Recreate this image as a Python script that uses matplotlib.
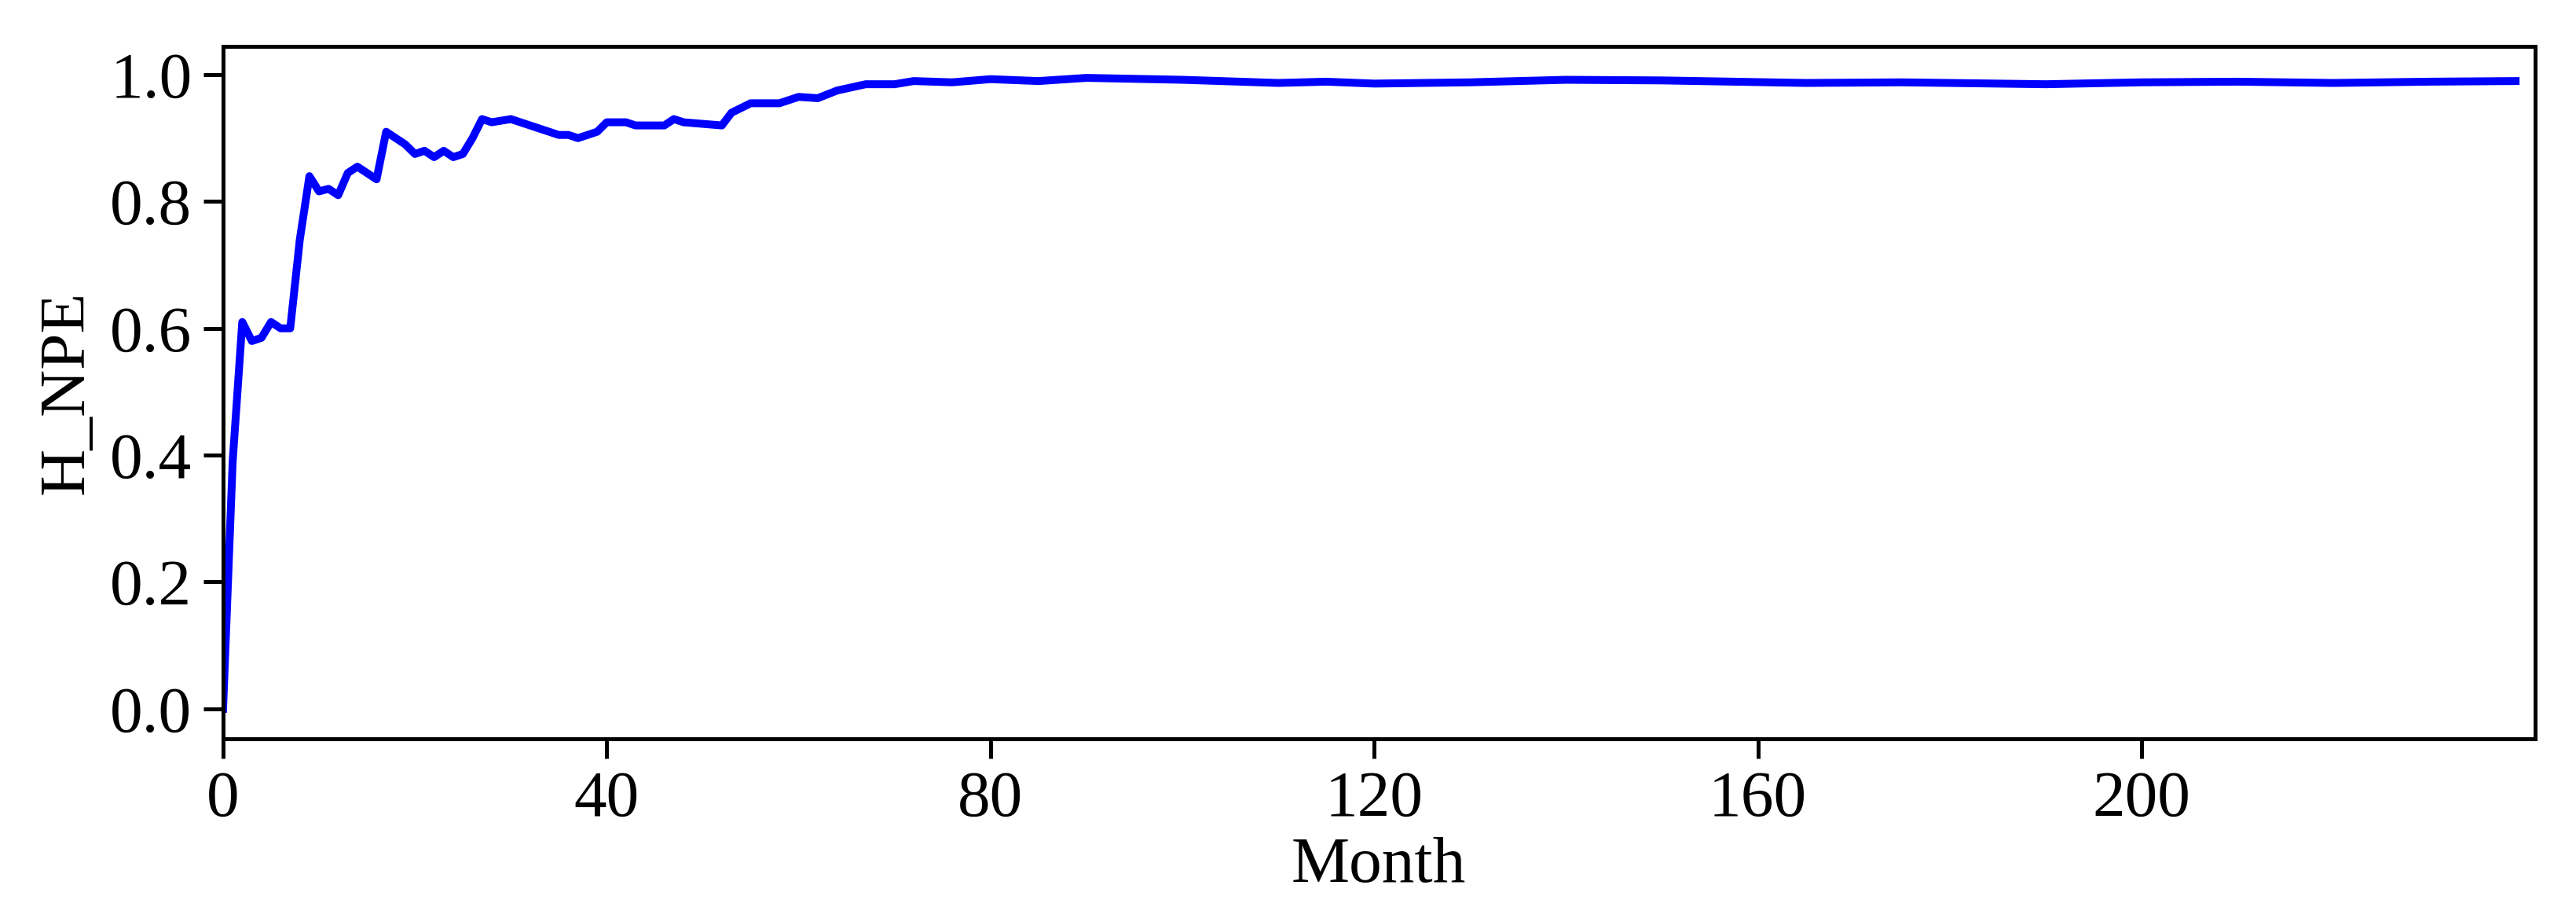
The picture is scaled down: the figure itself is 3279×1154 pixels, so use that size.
import matplotlib
matplotlib.use("Agg")
import matplotlib.pyplot as plt

plt.rcParams['font.family'] = ['Liberation Serif', 'DejaVu Serif']

# month / H_NPE values
months = [0, 1, 2, 3, 4, 5, 6, 7, 8, 9, 10, 11, 12, 13, 14, 15, 16, 17, 18, 19, 20,
          21, 22, 23, 24, 25, 26, 27, 28, 30, 33, 35, 36, 37, 39, 40, 42, 43, 46, 47,
          48, 52, 53, 55, 58, 60, 62, 64, 67, 70, 72, 76, 80, 85, 90, 100, 110, 115,
          120, 130, 140, 150, 165, 175, 190, 200, 210, 220, 230, 239]
h_npe = [0.0, 0.39, 0.61, 0.58, 0.585, 0.61, 0.60, 0.60, 0.74, 0.84, 0.816, 0.82,
         0.81, 0.845, 0.855, 0.845, 0.835, 0.91, 0.90, 0.89, 0.875, 0.88, 0.87, 0.88,
         0.87, 0.875, 0.90, 0.93, 0.925, 0.93, 0.915, 0.905, 0.905, 0.90, 0.91, 0.925,
         0.925, 0.92, 0.92, 0.93, 0.925, 0.92, 0.94, 0.955, 0.955, 0.965, 0.963, 0.975,
         0.985, 0.985, 0.99, 0.988, 0.993, 0.99, 0.995, 0.992, 0.987, 0.989, 0.986,
         0.988, 0.992, 0.991, 0.987, 0.988, 0.985, 0.988, 0.989, 0.987, 0.989, 0.99]

fig = plt.figure(figsize=(10.93, 3.847), dpi=300)
ax = fig.add_axes([0.0866, 0.185, 0.8974, 0.764])
ax.plot(months, h_npe, color='blue', lw=2.4)
ax.set_xlim(0, 241)
ax.set_ylim(-0.048, 1.045)
ax.set_xticks([0, 40, 80, 120, 160, 200])
ax.set_yticks([0.0, 0.2, 0.4, 0.6, 0.8, 1.0])
ax.tick_params(labelsize=20, width=1.2, length=6)
for s in ax.spines.values():
    s.set_linewidth(1.2)
ax.set_xlabel('Month', fontsize=20, labelpad=2)
ax.set_ylabel('H_NPE', fontsize=20)
fig.savefig('out.png', dpi=300)
